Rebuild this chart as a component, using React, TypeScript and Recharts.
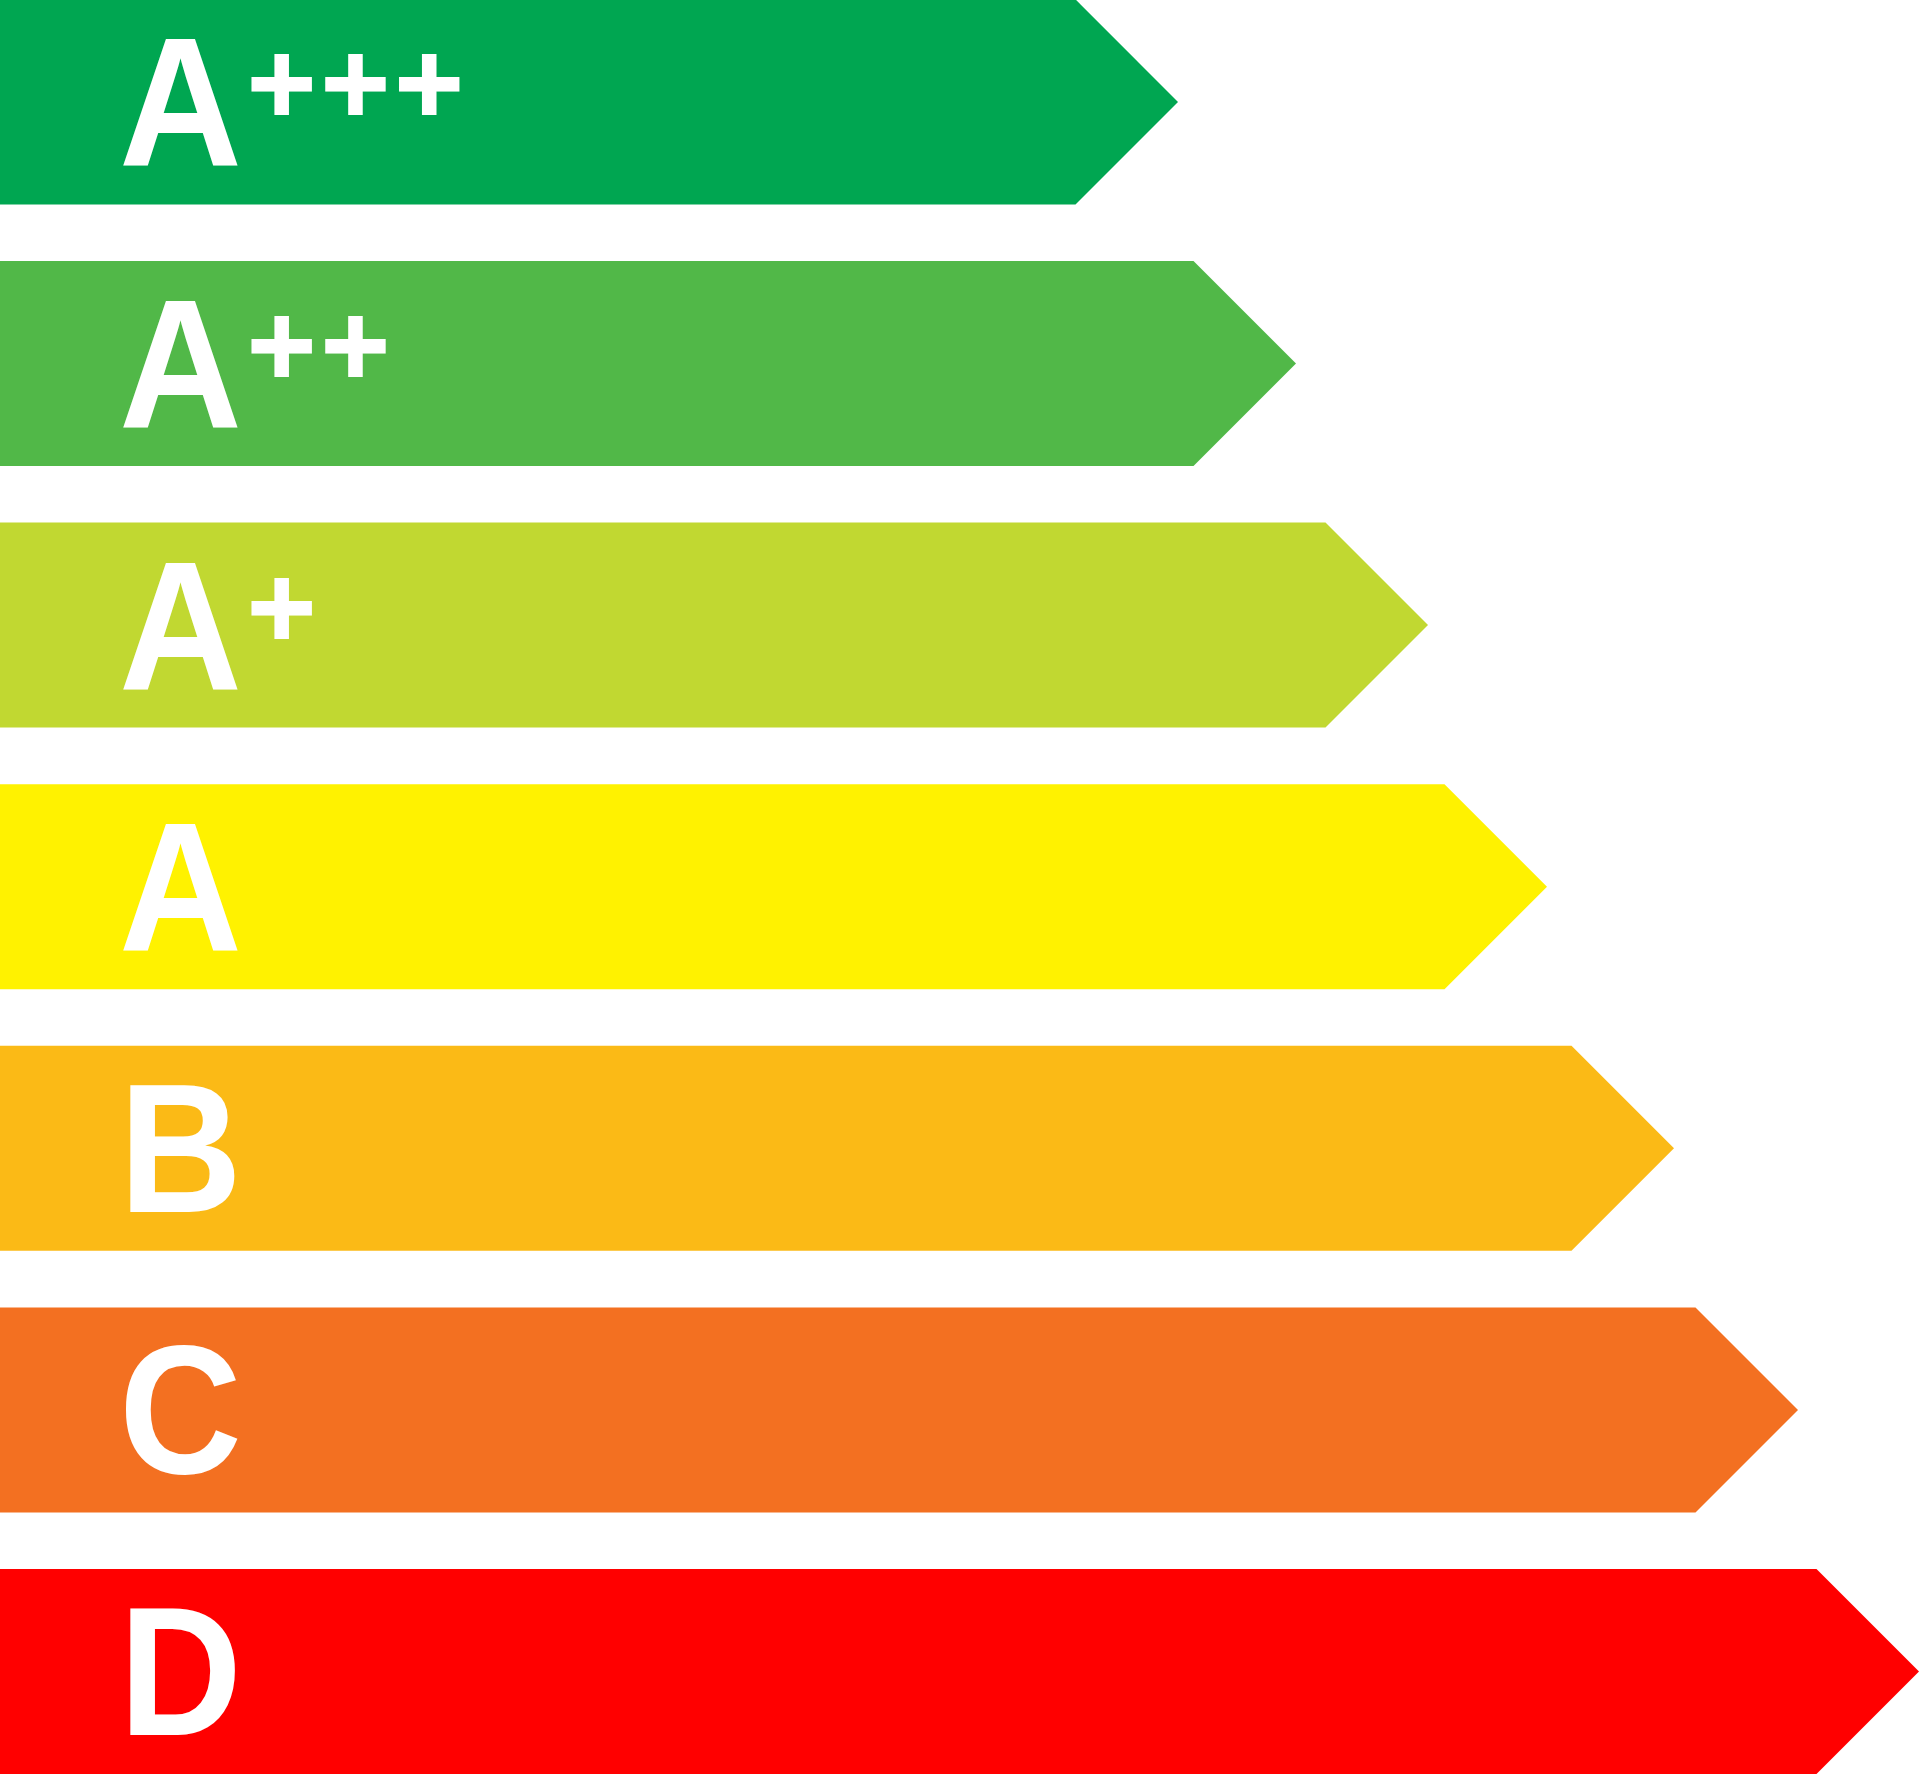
import { Bar, BarChart, Cell, XAxis, YAxis } from "recharts";

const classes = ["A+++", "A++", "A+", "A", "B", "C", "D"];
const reach = [1178, 1296, 1428, 1547, 1674, 1798, 1919];
const colors = ["#00a651", "#51b848", "#c1d831", "#fff200", "#fbba16", "#f37021", "#ff0000"];

const data = classes.map((name, i) => ({ name, value: reach[i] }));

// arrow-shaped bar with the class letter and its pluses
const ArrowBar = (props: any) => {
  const { x, y, width, height, fill, payload } = props;
  const tip = height / 2;
  const d = `M${x},${y} H${x + width - tip} L${x + width},${y + height / 2} L${x + width - tip},${y + height} H${x} Z`;
  const letter = payload.name.charAt(0);
  const plus = payload.name.slice(1);
  return (
    <g>
      <path d={d} fill={fill} />
      <text
        x={x + 119}
        y={y + 166}
        textLength={123}
        lengthAdjust="spacingAndGlyphs"
        fill="#fff"
        fontFamily="'Liberation Sans', Arial, sans-serif"
        fontWeight="bold"
        fontSize={183}
      >
        {letter}
      </text>
      {plus && (
        <text
          x={x + 244}
          y={y + 114}
          fill="#fff"
          stroke="#fff"
          strokeWidth={4}
          fontFamily="'DejaVu Sans', sans-serif"
          fontWeight="bold"
          fontSize={90}
          letterSpacing={-1.6}
        >
          {plus}
        </text>
      )}
    </g>
  );
};

export default function App() {
  return (
    <div style={{ width: 1920, height: 1774, overflow: "hidden" }}>
      <style>{"body{margin:0}"}</style>
      <BarChart
        width={1920}
        height={1774}
        data={data}
        layout="vertical"
        margin={{ top: -28.6, right: 0, bottom: -28.6, left: 0 }}
        barCategoryGap={0}
      >
        <XAxis type="number" domain={[0, 1920]} hide />
        <YAxis type="category" dataKey="name" hide width={0} />
        <Bar dataKey="value" barSize={205} shape={ArrowBar} isAnimationActive={false}>
          {data.map((d, i) => (
            <Cell key={d.name} fill={colors[i]} />
          ))}
        </Bar>
      </BarChart>
    </div>
  );
}
